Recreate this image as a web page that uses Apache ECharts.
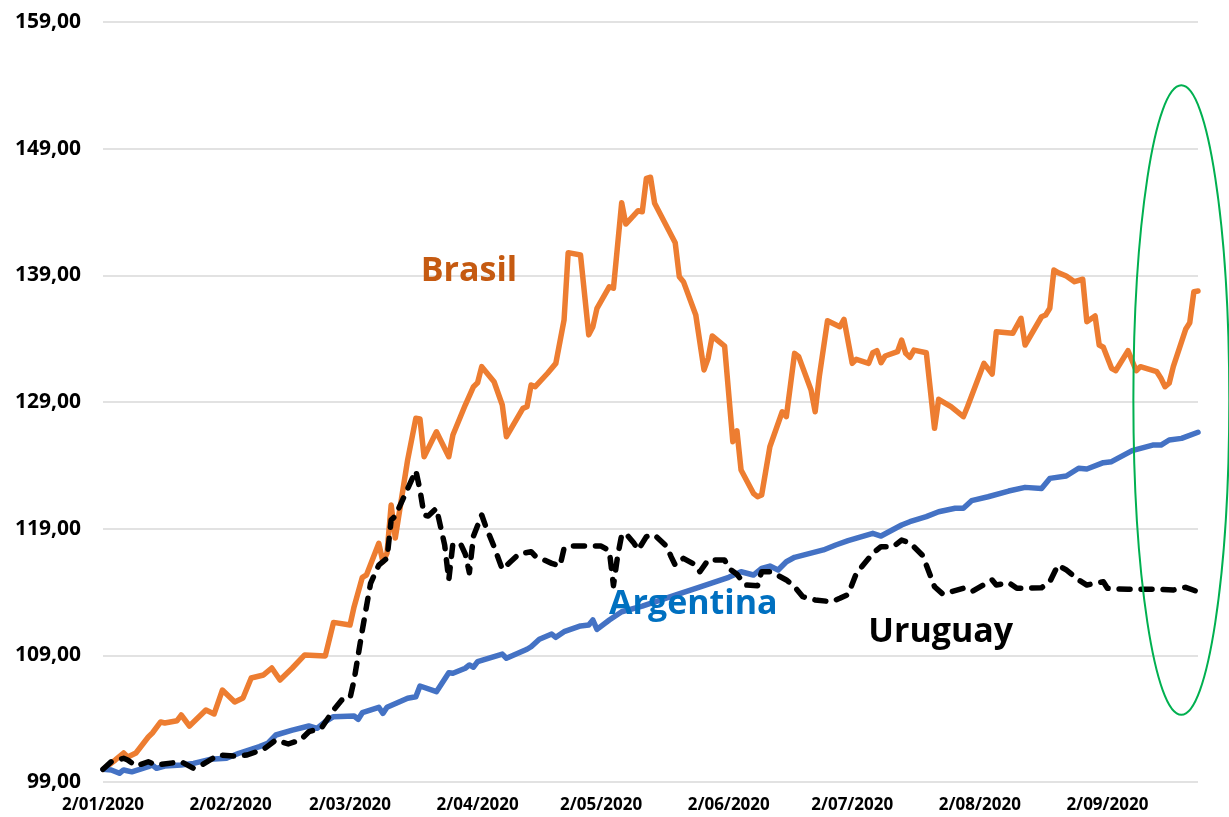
<!DOCTYPE html>
<html>
<head>
<meta charset="utf-8">
<title>Brasil Argentina Uruguay</title>
<script src="https://cdn.jsdelivr.net/npm/echarts@6/dist/echarts.min.js"></script>
<style>
  html, body { margin:0; padding:0; background:#fff; }
  #chart { width:1229px; height:817px; }
</style>
</head>
<body>
<div id="chart"></div>
<script>
/* index base 100 = 2/01/2020, x = days since 2/01/2020 */

var monthDays = [0, 31, 60, 91, 121, 152, 182, 213, 244];
var monthLabels = ['2/01/2020','2/02/2020','2/03/2020','2/04/2020','2/05/2020','2/06/2020','2/07/2020','2/08/2020','2/09/2020'];
var yTicks = [99, 109, 119, 129, 139, 149, 159];

var brasil = [
  [0,100.0],[3,100.74],[5,101.29],[6,100.97],[8,101.29],[11,102.55],[12,102.87],[14,103.74],[15,103.66],
  [18,103.84],[19,104.29],[21,103.42],[25,104.68],[27,104.37],[29,106.26],[32,105.32],[34,105.63],[36,107.21],
  [39,107.45],[41,108.0],[43,107.05],[46,108.0],[49,109.03],[54,108.95],[56,111.6],[60,111.39],[61,112.84],
  [63,115.16],[64,115.34],[67,117.84],[68,116.39],[69,117.08],[70,120.87],[71,118.26],[74,124.42],[76,127.71],
  [77,127.66],[78,124.68],[81,126.65],[84,124.68],[85,126.39],[88,128.76],[90,130.21],[91,130.52],[92,131.79],
  [95,130.6],[97,128.76],[98,126.26],[102,128.5],[103,128.63],[104,130.34],[105,130.21],[108,131.27],[110,132.05],
  [112,135.47],[113,140.79],[116,140.6],[118,134.3],[119,134.94],[120,136.4],[123,138.1],[124,137.98],[126,144.73],
  [127,143.05],[130,144.1],[131,144.02],[132,146.66],[133,146.74],[134,144.69],[139,141.58],[140,138.89],[141,138.5],
  [144,135.87],[146,131.53],[147,132.45],[148,134.21],[151,133.42],[153,125.87],[154,126.73],[155,123.63],[158,121.79],
  [159,121.52],[160,121.66],[162,125.47],[165,128.23],[166,127.84],[168,132.84],[169,132.58],[172,129.95],[173,128.23],
  [174,131.0],[176,135.42],[179,134.94],[180,135.53],[182,132.05],[183,132.37],[186,132.05],[187,132.89],[188,133.05],
  [189,132.1],[190,132.63],[193,132.97],[194,133.89],[195,132.84],[196,132.53],[197,133.1],[200,132.89],[202,126.92],
  [203,129.21],[206,128.63],[209,127.84],[210,128.63],[214,132.05],[216,131.21],[217,134.55],[221,134.42],[223,135.61],
  [224,133.5],[228,135.73],[229,135.87],[230,136.4],[231,139.42],[232,139.21],[234,138.95],[236,138.5],[238,138.69],
  [239,135.34],[241,135.79],[242,133.5],[243,133.32],[245,131.66],[246,131.47],[249,133.05],[251,131.47],[252,131.79],
  [256,131.39],[257,130.87],[258,130.21],[259,130.48],[260,131.79],[263,134.74],[264,135.26],[265,137.71],[266,137.76]
];

var argentina = [
  [0,100.0],[2,99.95],[4,99.69],[5,99.95],[7,99.8],[11,100.21],[12,100.34],[13,100.08],[15,100.26],[19,100.34],
  [22,100.47],[26,100.79],[30,100.87],[33,101.27],[38,101.79],[40,102.05],[42,102.71],[46,103.1],[50,103.42],
  [52,103.24],[54,103.76],[56,104.16],[61,104.21],[62,103.95],[63,104.47],[67,104.9],[68,104.42],[69,104.9],
  [74,105.61],[76,105.73],[77,106.58],[81,106.13],[84,107.63],[85,107.58],[88,107.98],[89,108.24],[90,108.06],
  [91,108.5],[97,109.1],[98,108.77],[103,109.48],[104,109.68],[106,110.27],[109,110.68],[110,110.42],[112,110.87],
  [116,111.32],[118,111.39],[119,111.79],[120,111.05],[123,111.79],[126,112.44],[131,112.89],[139,113.76],[144,114.29],
  [152,115.16],[155,115.6],[158,115.34],[160,115.87],[162,116.05],[164,115.74],[166,116.39],[168,116.74],[175,117.32],
  [178,117.71],[181,118.05],[187,118.63],[189,118.42],[194,119.29],[196,119.55],[200,119.95],[203,120.34],[207,120.61],
  [209,120.61],[211,121.21],[215,121.52],[220,121.97],[224,122.26],[228,122.18],[230,122.97],[234,123.16],[237,123.77],
  [239,123.71],[243,124.21],[245,124.29],[250,125.16],[255,125.6],[257,125.6],[259,126.0],[262,126.13],[266,126.61]
];

var uruguay = [
  [0,100.0],[2,100.6],[5,100.87],[6,100.74],[8,100.26],[11,100.6],[13,100.34],[19,100.6],[22,100.08],[24,100.34],
  [28,101.13],[32,101.05],[35,101.13],[39,101.58],[42,102.32],[45,102.0],[48,102.32],[50,102.97],[53,103.24],
  [56,104.68],[58,105.47],[60,105.61],[61,107.05],[63,111.0],[65,114.69],[67,116.13],[69,116.66],[70,119.68],
  [71,120.0],[76,123.58],[77,122.05],[78,120.08],[79,120.0],[81,120.61],[83,117.71],[84,114.95],[85,117.84],
  [87,117.71],[88,117.0],[89,115.52],[90,118.42],[92,120.08],[93,119.16],[95,117.58],[97,115.79],[99,116.39],
  [101,117.0],[104,117.18],[105,116.84],[109,116.26],[111,116.05],[112,117.45],[114,117.63],[121,117.63],[123,117.25],
  [124,114.5],[125,116.8],[126,118.5],[127,118.63],[129,117.84],[130,117.32],[132,118.37],[134,118.5],[137,117.58],
  [138,116.79],[139,116.13],[141,116.66],[144,116.13],[145,115.6],[147,116.53],[151,116.53],[152,115.87],[154,115.4],
  [156,114.55],[159,114.5],[160,115.6],[162,115.6],[164,115.3],[166,114.95],[168,114.42],[170,113.63],[173,113.37],
  [177,113.23],[179,113.5],[181,113.8],[183,115.47],[187,117.05],[189,117.58],[192,117.58],[194,118.1],[196,117.89],
  [199,116.92],[200,116.13],[202,114.42],[204,113.84],[206,114.02],[209,114.29],[211,114.02],[216,114.95],[217,114.55],
  [220,114.74],[222,114.29],[228,114.34],[230,114.81],[232,116.13],[234,115.74],[237,114.95],[239,114.55],[241,114.69],
  [243,114.81],[244,114.29],[249,114.21],[257,114.21],[260,114.16],[263,114.37],[266,114.02]
];

// series name labels and the green ellipse, given in data coords
var seriesLabels = [
  {text:'Brasil', day:88.9, val:139.3, color:'#c55a11'},
  {text:'Argentina', day:143.4, val:113.0, color:'#0070c0'},
  {text:'Uruguay', day:203.5, val:110.8, color:'#000000'}
];
var ellipseBox = {dayFrom:250.3, dayTo:273.6, valFrom:104.3, valTo:154.0};

var dom = document.getElementById('chart');
var myChart = echarts.init(dom);

var fmtY = function(v){ return v.toFixed(2).replace('.', ','); };

var option = {
  animation: false,
  backgroundColor: '#ffffff',
  grid: { left: 103, right: 31, top: 22, bottom: 35, containLabel: false },
  xAxis: {
    type: 'value',
    min: 0,
    max: 266,
    axisLine: { show: false },
    axisTick: { show: false },
    splitLine: { show: false },
    axisLabel: {
      customValues: monthDays,
      margin: 15,
      color: '#000',
      fontFamily: 'Open Sans',
      fontWeight: 'bold',
      fontSize: 17,
      formatter: function(v){
        var i = monthDays.indexOf(Math.round(v));
        return i >= 0 ? monthLabels[i] : '';
      }
    }
  },
  yAxis: {
    type: 'value',
    min: yTicks[0],
    max: yTicks[yTicks.length-1],
    interval: 10,
    axisLine: { show: false },
    axisTick: { show: false },
    splitLine: { lineStyle: { color: '#d9d9d9', width: 1.5 } },
    axisLabel: {
      margin: 22,
      color: '#000',
      fontFamily: 'Open Sans',
      fontWeight: 'bold',
      fontSize: 21,
      formatter: fmtY
    }
  },
  series: [
    {
      name: 'Brasil', type: 'line', data: brasil, showSymbol: false, symbol: 'none',
      lineStyle: { color: '#ed7d31', width: 5.5, join: 'round', cap: 'round' }, z: 2
    },
    {
      name: 'Argentina', type: 'line', data: argentina, showSymbol: false, symbol: 'none',
      lineStyle: { color: '#4472c4', width: 5.5, join: 'round', cap: 'round' }, z: 3
    },
    {
      name: 'Uruguay', type: 'line', data: uruguay, showSymbol: false, symbol: 'none',
      lineStyle: { color: '#000000', width: 5.5, type: [11, 11], join: 'round', cap: 'round' }, z: 4
    }
  ]
};

myChart.setOption(option);

// place texts + ellipse through the axes
var graphics = [];
seriesLabels.forEach(function(lb){
  var p = myChart.convertToPixel({gridIndex:0}, [lb.day, lb.val]);
  graphics.push({
    type: 'text', x: p[0], y: p[1], z: 10,
    style: { text: lb.text, fill: lb.color, font: 'bold 34px "Open Sans"', align: 'center', verticalAlign: 'middle' }
  });
});
var p1 = myChart.convertToPixel({gridIndex:0}, [ellipseBox.dayFrom, ellipseBox.valTo]);
var p2 = myChart.convertToPixel({gridIndex:0}, [ellipseBox.dayTo, ellipseBox.valFrom]);
graphics.push({
  type: 'ellipse', z: 9,
  shape: { cx: (p1[0]+p2[0])/2, cy: (p1[1]+p2[1])/2, rx: Math.abs(p2[0]-p1[0])/2, ry: Math.abs(p2[1]-p1[1])/2 },
  style: { fill: 'none', stroke: '#00b050', lineWidth: 2 }
});
myChart.setOption({ graphic: graphics });
</script>
</body>
</html>
